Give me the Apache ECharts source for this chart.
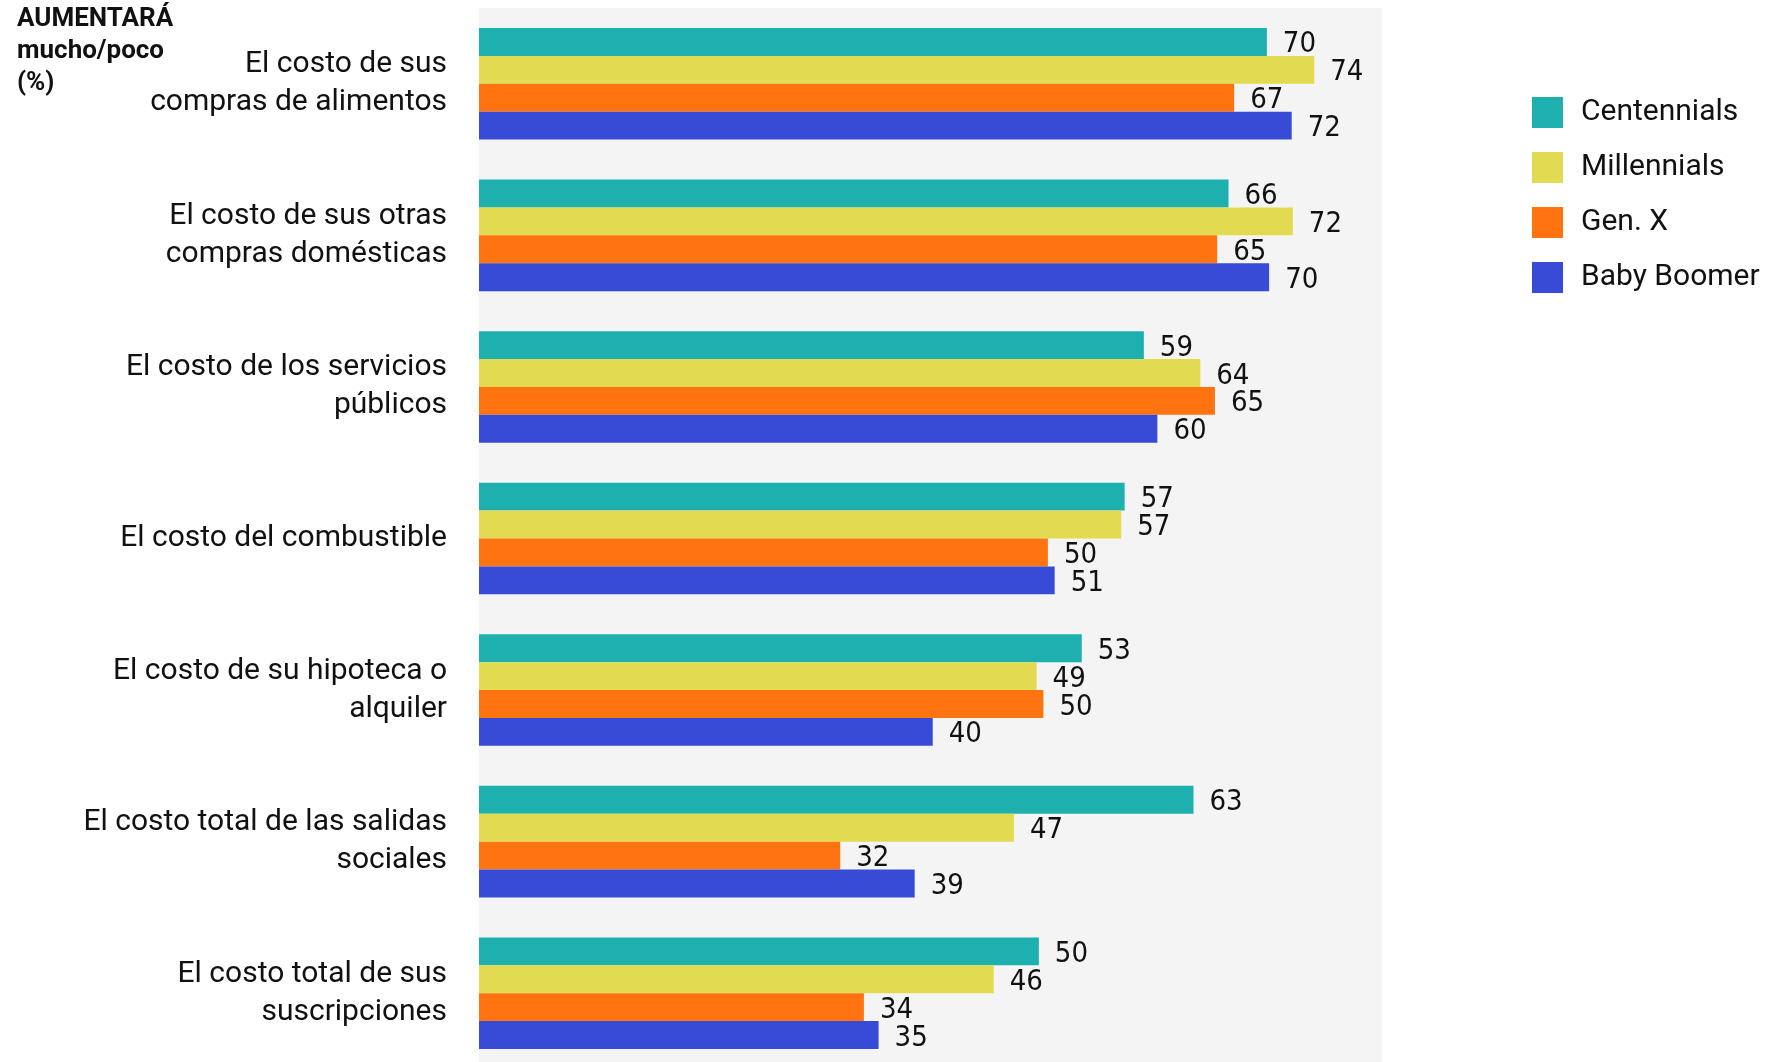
<!DOCTYPE html>
<html>
<head>
<meta charset="utf-8">
<script src="https://cdn.jsdelivr.net/npm/echarts@6/dist/echarts.min.js"></script>
<style>
  html, body { margin: 0; padding: 0; background: #fff; }
  #main { width: 1785px; height: 1062px; }
</style>
</head>
<body>
<div id="main"></div>
<script>
  // categorías (de arriba hacia abajo)
  const categories = [
    'El costo de sus\ncompras de alimentos',
    'El costo de sus otras\ncompras domésticas',
    'El costo de los servicios\npúblicos',
    'El costo del combustible',
    'El costo de su hipoteca o\nalquiler',
    'El costo total de las salidas\nsociales',
    'El costo total de sus\nsuscripciones'
  ]
  const seriesNames = ['Centennials', 'Millennials', 'Gen. X', 'Baby Boomer']
  const centennials = [69.8, 66.4, 58.9, 57.2, 53.4, 63.3, 49.6]
  const millennials = [74.0, 72.1, 63.9, 56.9, 49.4, 47.4, 45.6]
  const genX = [66.9, 65.4, 65.2, 50.4, 50.0, 32.0, 34.1]
  const babyBoomer = [72.0, 70.0, 60.1, 51.0, 40.2, 38.6, 35.4]
  const colors = ['#1eb0ae', '#e2db52', '#ff7411', '#384bd7']

  const values = [centennials, millennials, genX, babyBoomer]
  const series = values.map((data, i) => ({
    name: seriesNames[i],
    type: 'bar',
    barWidth: 27.9,
    barGap: '0%',
    itemStyle: { color: colors[i] },
    label: {
      show: true,
      position: 'right',
      distance: 16,
      offset: [0, 3],
      color: '#111',
      fontSize: 29,
      fontFamily: '"DejaVu Sans Condensed", sans-serif',
      formatter: p => Math.round(p.value)
    },
    data: data
  }))

  const myChart = echarts.init(document.getElementById('main'))
  const option = {
    animation: false,
    title: {
      text: 'AUMENTARÁ\nmucho/poco\n(%)',
      left: 17,
      top: 3,
      padding: 0,
      textStyle: {
        fontFamily: 'Roboto, sans-serif',
        fontWeight: 'bold',
        fontSize: 26,
        lineHeight: 32,
        color: '#111'
      }
    },
    legend: {
      orient: 'vertical',
      left: 1532,
      top: 97,
      padding: 0,
      itemWidth: 31,
      itemHeight: 31,
      itemGap: 24,
      icon: 'rect',
      data: seriesNames,
      textStyle: {
        fontFamily: 'Roboto, sans-serif',
        fontSize: 30,
        color: '#111',
        padding: [0, 0, 0, 13]
      }
    },
    grid: {
      left: 479,
      top: 8,
      width: 903,
      height: 1061,
      outerBoundsMode: 'none',
      show: true,
      backgroundColor: '#f4f4f4',
      borderWidth: 0
    },
    xAxis: {
      type: 'value',
      min: 0,
      max: 80,
      show: false
    },
    yAxis: {
      type: 'category',
      inverse: true,
      data: categories,
      axisLine: { show: false },
      axisTick: { show: false },
      axisLabel: {
        margin: 32,
        fontFamily: 'Roboto, sans-serif',
        fontSize: 30,
        lineHeight: 38,
        color: '#111',
        align: 'right'
      }
    },
    series: series
  }
  myChart.setOption(option)
</script>
</body>
</html>
